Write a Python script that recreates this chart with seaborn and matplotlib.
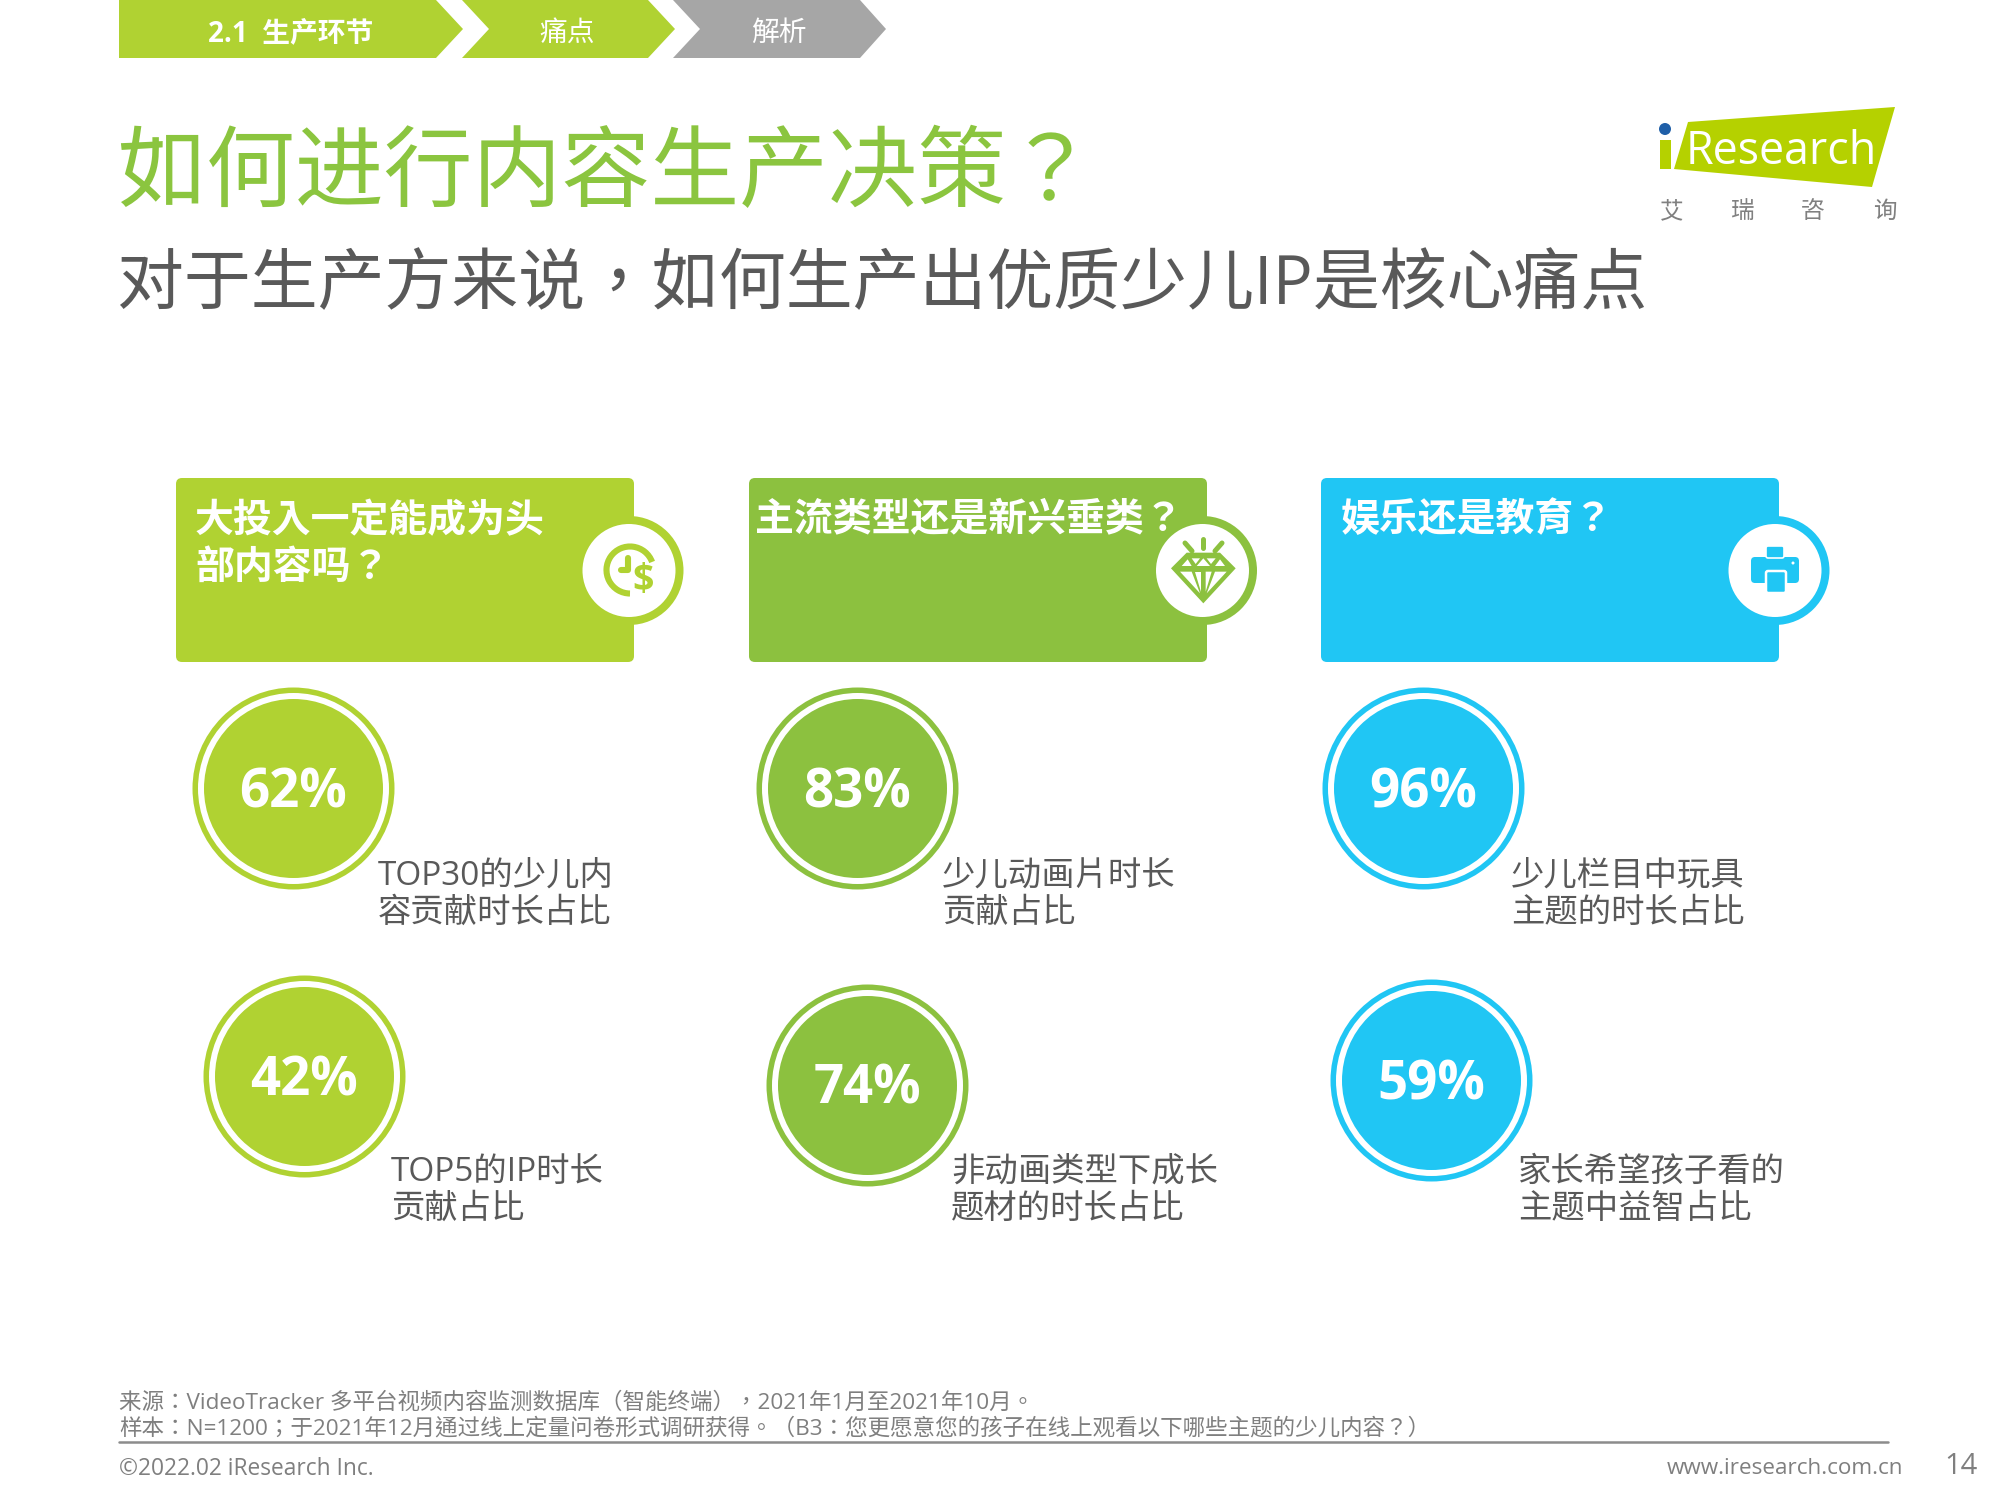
# iResearch slide: content production decisions
import pandas as pd
import matplotlib.pyplot as plt
import seaborn as sns
from matplotlib.patches import Polygon, Circle, FancyBboxPatch, Rectangle, Arc

sns.set_theme(style="white")
# the TC face centres the full width punctuation, like the slide does
plt.rcParams['font.family'] = ['Open Sans', 'Noto Sans CJK TC', 'DejaVu Sans']

# Content
tabs = ['2.1  生产环节', '痛点', '解析']
title = '如何进行内容生产决策？'
subtitle = '对于生产方来说，如何生产出优质少儿IP是核心痛点'
card_titles = ['大投入一定能成为头\n部内容吗？', '主流类型还是新兴垂类？', '娱乐还是教育？']
percents_top = [62, 83, 96]
percents_bottom = [42, 74, 59]
labels_top = ['TOP30的少儿内\n容贡献时长占比', '少儿动画片时长\n贡献占比', '少儿栏目中玩具\n主题的时长占比']
labels_bottom = ['TOP5的IP时长\n贡献占比', '非动画类型下成长\n题材的时长占比', '家长希望孩子看的\n主题中益智占比']
source = '来源：VideoTracker 多平台视频内容监测数据库（智能终端），2021年1月至2021年10月。'
sample = '样本：N=1200；于2021年12月通过线上定量问卷形式调研获得。（B3：您更愿意您的孩子在线上观看以下哪些主题的少儿内容？）'
copyright_text = '©2022.02 iResearch Inc.'
website = 'www.iresearch.com.cn'
page = '14'
logo_cn = ['艾', '瑞', '咨', '询']

# Colours
lime = '#B0D232'
green = '#8CC13F'
cyan = '#20C6F4'
grey = '#595959'
colors = [lime, green, cyan]

# Layout in pixels of the 2000x1500 slide
disc_x_top = [293, 857, 1423]
disc_y_top = [788, 788, 788]
disc_x_bottom = [304, 867, 1431]
disc_y_bottom = [1076, 1085, 1080]
label_x_top = [378, 942, 1511]
label_x_bottom = [391, 951, 1518]
card_x = [176, 749, 1321]
title_x = [195, 755, 1341]
title_y = [545, 521, 521]
badge_x = [629, 1202.5, 1775]

fig = plt.figure(figsize=(20, 15), dpi=100)
ax = fig.add_axes([0, 0, 1, 1])
ax.set_xlim(0, 2000)
ax.set_ylim(1500, 0)
ax.axis('off')


def chevron(x0, notch, shoulder, tip, color):
    pts = [(x0, 0), (shoulder, 0), (tip, 29), (shoulder, 58), (x0, 58)]
    if notch != x0:
        pts.append((notch, 29))
    ax.add_patch(Polygon(pts, closed=True, fc=color, ec='none'))


# Top tabs
chevron(119, 119, 436, 463, lime)
chevron(462, 489, 648, 675, lime)
chevron(673, 700, 860, 886, '#A6A6A6')
for tx, t, w in zip([291, 567, 779], tabs, ['bold', 'normal', 'normal']):
    ax.text(tx, 34, t, color='white', fontsize=20, fontweight=w, ha='center', va='center')

# Headings
ax.text(117, 177, title, color='#8BC53F', fontsize=64, ha='left', va='center')
ax.text(117, 286, subtitle, color=grey, fontsize=48.2, ha='left', va='center')

# Logo
ax.add_patch(Polygon([(1688, 122), (1895, 107), (1872, 187), (1674, 169)], closed=True, fc='#B5D100', ec='none'))
ax.add_patch(Rectangle((1660, 140), 11, 29, fc='#B5D100', ec='none'))
ax.add_patch(Circle((1665, 129), 6, fc='#1F5FA8', ec='none'))
ax.text(1686, 164, 'Research', color='white', fontsize=32.2, ha='left', va='baseline')
for cx, ch in zip([1672, 1743, 1813, 1885], logo_cn):
    ax.text(cx, 212, ch, color='#808080', fontsize=17, ha='center', va='center')

# Cards and round badges
for x, tx, ty, bx, c, t in zip(card_x, title_x, title_y, badge_x, colors, card_titles):
    ax.add_patch(FancyBboxPatch((x + 6, 484), 446, 172, boxstyle='round,pad=6,rounding_size=6', fc=c, ec='none'))
    ax.add_patch(Circle((bx, 570.5), 54.5, fc=c, ec='none', zorder=2))
    ax.add_patch(Circle((bx, 570.5), 46.5, fc='white', ec='none', zorder=3))
    ax.text(tx, ty, t, color='white', fontsize=28, fontweight='bold', ha='left', va='center',
            linespacing=1.24, zorder=4)

# Clock and dollar icon
ax.add_patch(Arc((630, 570), 47, 47, theta1=90, theta2=340, lw=4.4, color=lime, zorder=5))
ax.plot([628, 628, 621], [558, 570, 570], color=lime, lw=4.4, solid_capstyle='round',
        solid_joinstyle='round', zorder=5)
ax.text(643, 581, '$', color=lime, fontsize=27, fontweight='bold', ha='center', va='center', zorder=6)


def gem(pts, fc):
    ax.add_patch(Polygon([(1145 + px / 3, 510 + py / 3) for px, py in pts], closed=True, fc=fc, ec='none', zorder=6))


# Diamond icon
gem([(125, 128), (225, 128), (272, 175), (175, 280), (78, 175)], green)
for pts in ([(110, 168), (128, 148), (140, 168)], [(155, 168), (175, 145), (195, 168)],
            [(210, 168), (225, 148), (240, 168)], [(140, 145), (165, 145), (152, 162)],
            [(185, 145), (212, 145), (198, 162)], [(105, 185), (140, 185), (165, 250)],
            [(150, 185), (168, 185), (168, 245)], [(182, 185), (200, 185), (182, 245)],
            [(210, 185), (245, 185), (185, 250)]):
    gem(pts, 'white')
for xs, ys in ([(1203, 1203), (539, 548)], [(1185, 1192), (543, 551)], [(1222, 1215), (543, 551)]):
    ax.plot(xs, ys, color=green, lw=3.6, solid_capstyle='round', zorder=5)

# Printer icon
ax.add_patch(FancyBboxPatch((1754, 560), 42, 20, boxstyle='round,pad=3,rounding_size=4', fc=cyan, ec='none', zorder=5))
ax.add_patch(FancyBboxPatch((1768, 548), 14, 8, boxstyle='round,pad=2,rounding_size=2', fc=cyan, ec='white', lw=1.2, zorder=6))
ax.add_patch(FancyBboxPatch((1768, 573), 16, 18, boxstyle='round,pad=2,rounding_size=2', fc=cyan, ec='white', lw=1.8, zorder=6))
ax.add_patch(Circle((1793, 563), 1.5, fc='white', ec='none', zorder=6))


def discs(xs, ys, c):
    df = pd.DataFrame({'x': xs, 'y': ys})
    # point sizes: 1 px = 0.72 pt at dpi 100
    sns.scatterplot(data=df, x='x', y='y', s=(202 * 0.72) ** 2, color=c, linewidth=0, ax=ax, zorder=2, legend=False)
    sns.scatterplot(data=df, x='x', y='y', s=(191 * 0.72) ** 2, color='white', linewidth=0, ax=ax, zorder=3, legend=False)
    sns.scatterplot(data=df, x='x', y='y', s=(179 * 0.72) ** 2, color=c, linewidth=0, ax=ax, zorder=4, legend=False)


# Percent discs
for i, c in enumerate(colors):
    discs([disc_x_top[i], disc_x_bottom[i]], [disc_y_top[i], disc_y_bottom[i]], c)
    ax.text(disc_x_top[i], disc_y_top[i] + 6, f'{percents_top[i]}%', color='white', fontsize=38,
            fontweight='bold', ha='center', va='center', zorder=5)
    ax.text(disc_x_bottom[i], disc_y_bottom[i] + 5, f'{percents_bottom[i]}%', color='white', fontsize=38,
            fontweight='bold', ha='center', va='center', zorder=5)
    ax.text(label_x_top[i], 895, labels_top[i], color=grey, fontsize=24, ha='left', va='center',
            linespacing=1.16, zorder=6)
    ax.text(label_x_bottom[i], 1191, labels_bottom[i], color=grey, fontsize=24, ha='left', va='center',
            linespacing=1.16, zorder=6)
ax.set_xlim(0, 2000)
ax.set_ylim(1500, 0)
ax.set_xlabel('')
ax.set_ylabel('')

# Footer
foot = '#7F7F7F'
ax.text(119, 1403, source, color=foot, fontsize=16.2, ha='left', va='center')
ax.text(119, 1429, sample, color=foot, fontsize=16.2, ha='left', va='center')
ax.plot([119, 1888], [1442, 1442], color='#8C8C8C', lw=1.8)
ax.text(119, 1469, copyright_text, color=foot, fontsize=16.4, ha='left', va='center')
ax.text(1903, 1469, website, color=foot, fontsize=16.2, ha='right', va='center')
ax.text(1961, 1467, page, color=foot, fontsize=21, ha='center', va='center')

fig.savefig('out.png', dpi=100)
